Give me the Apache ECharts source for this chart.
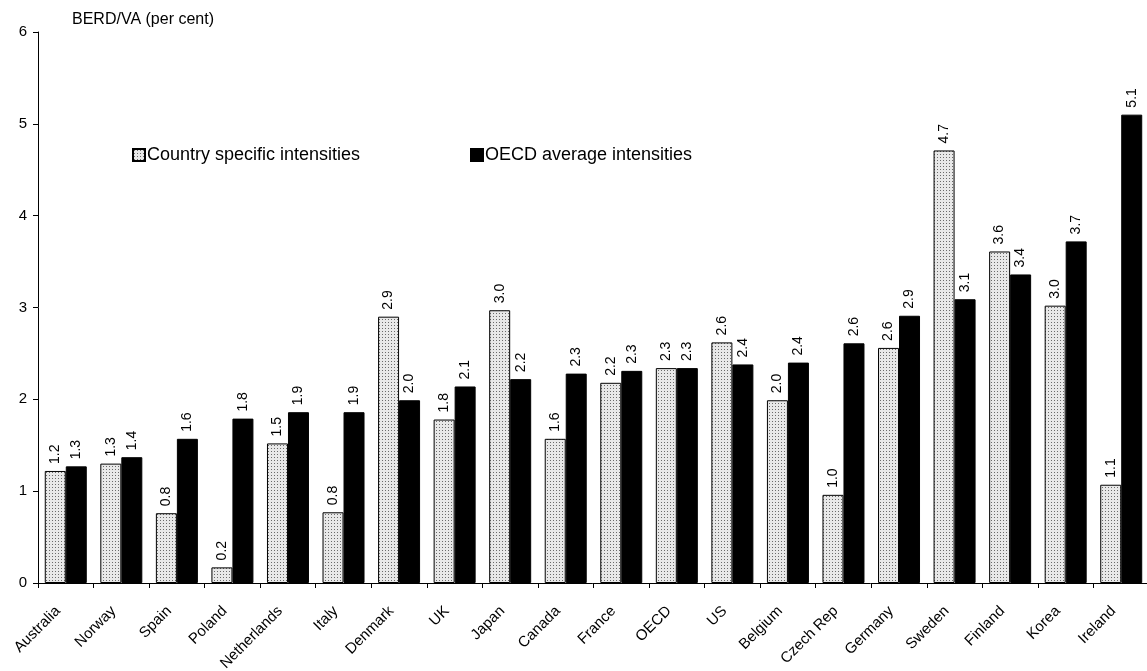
<!DOCTYPE html>
<html><head><meta charset="utf-8">
<script src="https://cdn.jsdelivr.net/npm/echarts@6/dist/echarts.min.js"></script>
<style>html,body{margin:0;padding:0;background:#fff}#c{width:1147px;height:671px}</style>
</head><body><div id="c"></div>
<script>
const categories = ['Australia','Norway','Spain','Poland','Netherlands','Italy','Denmark','UK','Japan','Canada','France','OECD','US','Belgium','Czech Rep','Germany','Sweden','Finland','Korea','Ireland'];
const countrySpecific = [1.22,1.30,0.76,0.17,1.52,0.77,2.90,1.78,2.97,1.57,2.18,2.34,2.62,1.99,0.96,2.56,4.71,3.61,3.02,1.07];
const oecdAverage = [1.27,1.37,1.57,1.79,1.86,1.86,1.99,2.14,2.22,2.28,2.31,2.34,2.38,2.40,2.61,2.91,3.09,3.36,3.72,5.10];
const yTicks = [0,1,2,3,4,5,6];

const pc = document.createElement('canvas');
pc.width = 3; pc.height = 3;
const g = pc.getContext('2d');
g.fillStyle = '#e8e8e8'; g.fillRect(0,0,3,3);
g.fillStyle = '#6a6a6a'; g.fillRect(1,1,1,1);
const pattern = {image: pc, repeat: 'repeat'};

const font = 'Liberation Sans, Arial, sans-serif';
const chart = echarts.init(document.getElementById('c'));
const labelCfg = {show:true, position:'top', rotate:90, align:'left', verticalAlign:'middle', distance:7,
  fontFamily:font, fontSize:14, color:'#000', formatter: p => p.value.toFixed(1)};
chart.setOption({
  animation:false,
  textStyle:{fontFamily:font},
  title:{text:'BERD/VA (per cent)', left:67, top:7, textStyle:{fontSize:16, fontWeight:'normal', color:'#000', fontFamily:font}},
  legend:[
    {data:[{name:'Country specific intensities', icon:'rect'}], left:127, top:141, itemWidth:12, itemHeight:12, itemGap:0,
      textStyle:{fontSize:18, color:'#000', fontFamily:font, padding:[0,0,0,-3]}},
    {data:[{name:'OECD average intensities', icon:'rect'}], left:465, top:141, itemWidth:12, itemHeight:12,
      textStyle:{fontSize:18, color:'#000', fontFamily:font, padding:[0,0,0,-3]}}
  ],
  grid:{left:38, right:-2, top:32, bottom:88, containLabel:false, outerBoundsMode:'none'},
  xAxis:{type:'category', data:categories,
    axisLine:{lineStyle:{color:'#000'}}, axisTick:{show:true, alignWithLabel:false, length:5, lineStyle:{color:'#000'}},
    axisLabel:{rotate:45, fontSize:15, color:'#000', fontFamily:font, interval:0, margin:18, padding:[0,11,0,0]}},
  yAxis:{type:'value', min:0, max:6, interval:1,
    axisLine:{show:true, lineStyle:{color:'#000'}}, axisTick:{show:true, length:5, lineStyle:{color:'#000'}},
    splitLine:{show:false},
    axisLabel:{fontSize:15, color:'#000', fontFamily:font, margin:11, formatter: v => yTicks.includes(v) ? String(v) : ''}},
  series:[
    {name:'Country specific intensities', type:'bar', data:countrySpecific, barWidth:21, barGap:'0%',
      itemStyle:{color:pattern, borderColor:'#000', borderWidth:1}, label:labelCfg},
    {name:'OECD average intensities', type:'bar', data:oecdAverage, barWidth:21,
      itemStyle:{color:'#000', borderColor:'#000', borderWidth:1}, label:labelCfg}
  ]
});
</script></body></html>
